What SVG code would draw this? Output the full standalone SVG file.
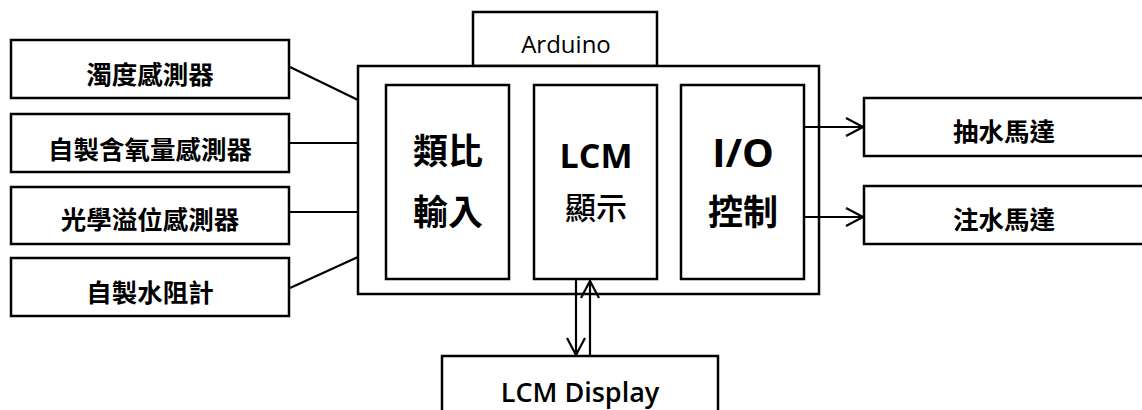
<svg xmlns="http://www.w3.org/2000/svg" width="1142" height="410" viewBox="0 0 1142 410">
<defs>
<style>
.box{fill:#fff;stroke:#000;stroke-width:2.5}
.ln{fill:none;stroke:#000;stroke-width:2.2}
.t{font-family:"Open Sans","Noto Sans CJK TC",sans-serif;fill:#000;text-anchor:middle}
.cjk{font-family:"Noto Sans CJK TC","Noto Sans",sans-serif;font-weight:700;font-size:25.5px}
.b{font-weight:700}
</style>
<marker id="ah" markerWidth="20" markerHeight="20" viewBox="-18 -10 20 20" refX="0" refY="0" orient="auto" markerUnits="userSpaceOnUse">
<path d="M-17,-9 L0,0 L-17,9" fill="none" stroke="#000" stroke-width="2.2"/>
</marker>
</defs>
<rect width="1142" height="410" fill="#fff"/>
<g id="arduino-tab"><rect class="box" x="473" y="12" width="184" height="54"/><text class="t" x="566" y="53" font-size="24">Arduino</text></g>
<g id="arduino"><rect class="box" x="358" y="66" width="461" height="228"/></g>
<g id="analog"><rect class="box" x="386" y="85" width="123" height="194"/>
<text class="t cjk" x="448" y="164" style="font-size:35px">類比</text>
<text class="t cjk" x="448" y="225" style="font-size:35px">輸入</text></g>
<g id="lcm"><rect class="box" x="534" y="85" width="123" height="194"/>
<text class="t b" x="596" y="168" font-size="34">LCM</text>
<text class="t" x="596" y="219" style="font-family:'Noto Sans CJK TC',sans-serif;font-size:31px;font-weight:500">顯示</text></g>
<g id="io"><rect class="box" x="681" y="85" width="123" height="194"/>
<text class="t b" x="743" y="167" font-size="40">I/O</text>
<text class="t cjk" x="743" y="225" style="font-size:35px">控制</text></g>
<g id="s1"><rect class="box" x="11" y="40" width="278" height="58"/><text class="t cjk" x="150" y="84">濁度感測器</text></g>
<g id="s2"><rect class="box" x="11" y="114" width="278" height="58"/><text class="t cjk" x="150" y="159">自製含氧量感測器</text></g>
<g id="s3"><rect class="box" x="11" y="187" width="278" height="57"/><text class="t cjk" x="150" y="229">光學溢位感測器</text></g>
<g id="s4"><rect class="box" x="11" y="258" width="278" height="58"/><text class="t cjk" x="150" y="302">自製水阻計</text></g>
<g id="m1"><rect class="box" x="864" y="98" width="290" height="58"/><text class="t cjk" x="1004" y="141">抽水馬達</text></g>
<g id="m2"><rect class="box" x="864" y="186" width="290" height="58"/><text class="t cjk" x="1004" y="229">注水馬達</text></g>
<g id="display"><rect class="box" x="442" y="356" width="276" height="70"/><text class="t" x="580" y="402" font-size="27" font-weight="600">LCM Display</text></g>
<g id="connectors">
<line class="ln" x1="290" y1="67" x2="358" y2="100"/>
<line class="ln" x1="290" y1="143" x2="358" y2="143"/>
<line class="ln" x1="290" y1="212" x2="358" y2="212"/>
<line class="ln" x1="290" y1="288" x2="358" y2="257"/>
<line class="ln" x1="804" y1="127" x2="863" y2="127" marker-end="url(#ah)"/>
<line class="ln" x1="804" y1="217" x2="863" y2="217" marker-end="url(#ah)"/>
<line class="ln" x1="576" y1="280" x2="576" y2="355" marker-end="url(#ah)"/>
<line class="ln" x1="590" y1="355" x2="590" y2="281" marker-end="url(#ah)"/>
</g>
</svg>
